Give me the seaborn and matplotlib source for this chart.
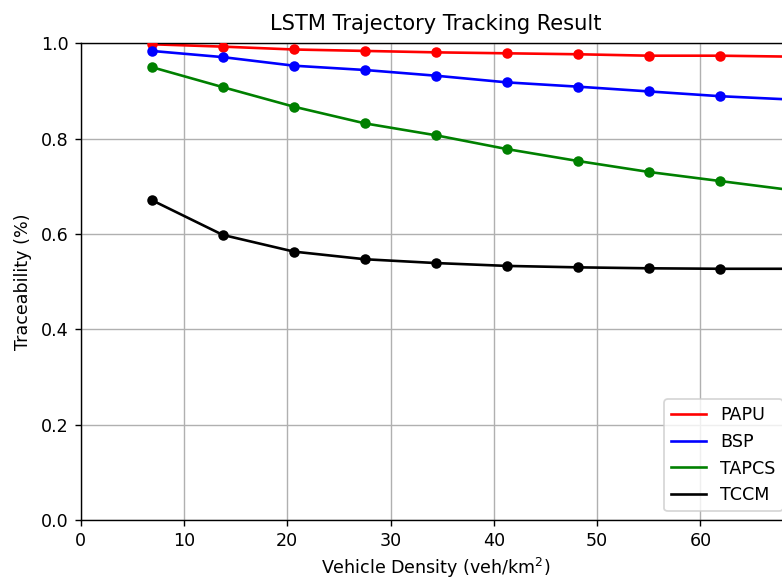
import matplotlib
matplotlib.use("Agg")
import matplotlib.pyplot as plt
import seaborn as sns
import pandas as pd

density = [6.88, 13.76, 20.64, 27.52, 34.40, 41.28, 48.16, 55.04, 61.92, 68.80]
papu = [0.998, 0.993, 0.987, 0.984, 0.981, 0.979, 0.977, 0.974, 0.974, 0.972]
bsp = [0.984, 0.971, 0.953, 0.944, 0.932, 0.918, 0.909, 0.899, 0.889, 0.882]
tapcs = [0.950, 0.908, 0.867, 0.832, 0.807, 0.778, 0.753, 0.730, 0.711, 0.692]
tccm = [0.671, 0.598, 0.563, 0.547, 0.539, 0.533, 0.530, 0.528, 0.527, 0.527]

series_names = ["PAPU", "BSP", "TAPCS", "TCCM"]
series_values = [papu, bsp, tapcs, tccm]
series_colors = ["red", "blue", "green", "black"]

x_ticks = [0, 10, 20, 30, 40, 50, 60]
y_ticks = [0.0, 0.2, 0.4, 0.6, 0.8, 1.0]

DPI = 126
fig = plt.figure(figsize=(782 / DPI, 579 / DPI), dpi=DPI)
ax = fig.add_axes([80.7 / 782, 59 / 579, 710.7 / 782, 476.7 / 579])

for name, vals, col in zip(series_names, series_values, series_colors):
    df = pd.DataFrame({"x": density, "y": vals})
    sns.lineplot(data=df, x="x", y="y", color=col, label=name, ax=ax,
                 linewidth=1.5, zorder=2)
    sns.scatterplot(data=df, x="x", y="y", color=col, edgecolor=col,
                    s=36, linewidth=0, legend=False, ax=ax, zorder=3)

ax.set_xticks(x_ticks)
ax.set_yticks(y_ticks)
ax.set_xlim(0, max(density))
ax.set_ylim(0, 1.0)
ax.grid(True, color="#b0b0b0", linewidth=0.8)
ax.set_axisbelow(True)
ax.set_title("LSTM Trajectory Tracking Result", fontsize=12, pad=7.5)
ax.set_xlabel("Vehicle Density (veh/km$^2$)", fontsize=10, labelpad=3)
ax.set_ylabel("Traceability (%)", fontsize=10, labelpad=5)
ax.tick_params(labelsize=10)
ax.legend(loc="lower right", fontsize=10)

fig.savefig("out.png", dpi=DPI)
